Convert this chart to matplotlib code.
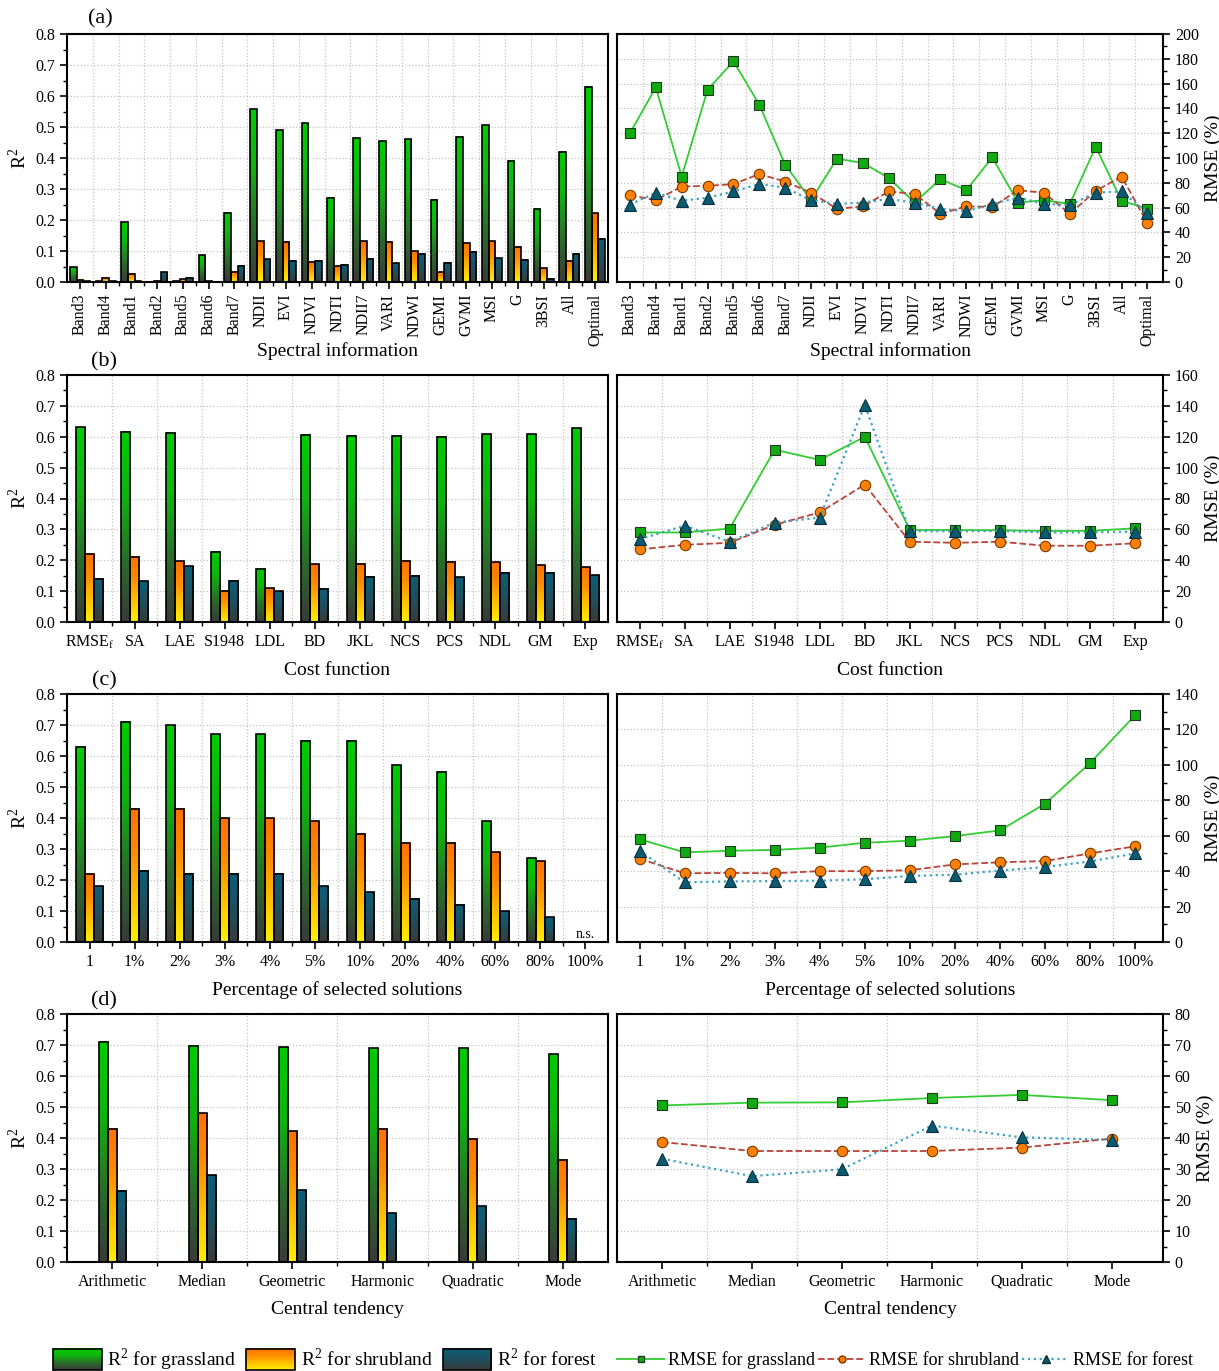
import numpy as np
import matplotlib
matplotlib.use('Agg')
import matplotlib.pyplot as plt
from matplotlib.colors import LinearSegmentedColormap
from matplotlib.ticker import MultipleLocator, FixedLocator, FormatStrFormatter
from matplotlib.patches import Rectangle
from matplotlib.legend_handler import HandlerBase
from matplotlib.image import BboxImage
from matplotlib.transforms import Bbox, TransformedBbox
from matplotlib.lines import Line2D

plt.rcParams['font.family'] = ['Liberation Serif', 'DejaVu Serif']
plt.rcParams['mathtext.fontset'] = 'stix'

# ---- (a) spectral information
cats_a = ['Band3', 'Band4', 'Band1', 'Band2', 'Band5', 'Band6', 'Band7', 'NDII', 'EVI', 'NDVI',
          'NDTI', 'NDII7', 'VARI', 'NDWI', 'GEMI', 'GVMI', 'MSI', 'G', '3BSI', 'All', 'Optimal']
r2_grass_a = [0.048, 0.003, 0.193, 0.001, 0.003, 0.086, 0.223, 0.557, 0.490, 0.512, 0.272,
              0.463, 0.454, 0.461, 0.266, 0.468, 0.506, 0.391, 0.237, 0.420, 0.630]
r2_shrub_a = [0.007, 0.013, 0.027, 0.004, 0.009, 0.002, 0.033, 0.132, 0.130, 0.066, 0.051,
              0.132, 0.130, 0.100, 0.032, 0.127, 0.132, 0.114, 0.044, 0.069, 0.222]
r2_forest_a = [0.003, 0.002, 0.002, 0.032, 0.013, 0.001, 0.052, 0.073, 0.068, 0.068, 0.055,
               0.075, 0.061, 0.091, 0.062, 0.098, 0.076, 0.071, 0.010, 0.091, 0.140]
rmse_grass_a = [120, 157, 85, 155, 178, 143, 94.5, 66, 99.5, 96, 84, 64, 83, 74, 100.5, 64, 66, 63, 109, 65.5, 59]
rmse_shrub_a = [70, 66, 77, 77.5, 79, 87, 81, 72, 59, 61, 73, 71, 55, 61, 60.5, 74, 72, 55, 73.5, 85, 47.5]
rmse_forest_a = [62.5, 72, 65.5, 68, 73, 79, 76, 66, 63, 64, 67, 64, 59, 57, 63, 68, 63, 62, 72, 73, 55.5]

# ---- (b) cost function
cats_b = ['RMSE$_\\mathregular{f}$', 'SA', 'LAE', 'S1948', 'LDL', 'BD', 'JKL', 'NCS', 'PCS', 'NDL', 'GM', 'Exp']
r2_grass_b = [0.630, 0.616, 0.613, 0.227, 0.172, 0.607, 0.603, 0.603, 0.600, 0.608, 0.608, 0.627]
r2_shrub_b = [0.221, 0.211, 0.197, 0.102, 0.110, 0.187, 0.189, 0.199, 0.195, 0.193, 0.183, 0.177]
r2_forest_b = [0.140, 0.132, 0.180, 0.134, 0.100, 0.107, 0.147, 0.150, 0.145, 0.159, 0.159, 0.151]
rmse_grass_b = [58, 58, 60.5, 111.6, 105, 120, 59.6, 59.6, 59.4, 59, 59, 60.7]
rmse_shrub_b = [47, 50, 51.3, 63, 71, 89, 52, 51.3, 52, 49.4, 49.4, 51]
rmse_forest_b = [53.6, 62.4, 52, 64.4, 67.6, 140.6, 58.8, 58.8, 59, 58, 58, 58.6]

# ---- (c) percentage of selected solutions
cats_c = ['1', '1%', '2%', '3%', '4%', '5%', '10%', '20%', '40%', '60%', '80%', '100%']
r2_grass_c = [0.63, 0.71, 0.70, 0.67, 0.67, 0.65, 0.65, 0.57, 0.55, 0.39, 0.27, np.nan]
r2_shrub_c = [0.22, 0.43, 0.43, 0.40, 0.40, 0.39, 0.35, 0.32, 0.32, 0.29, 0.26, np.nan]
r2_forest_c = [0.18, 0.23, 0.22, 0.22, 0.22, 0.18, 0.16, 0.14, 0.12, 0.10, 0.08, np.nan]
rmse_grass_c = [58, 50.6, 51.5, 52, 53.3, 56, 57.2, 59.8, 63, 78, 101, 128]
rmse_shrub_c = [47, 38.8, 39, 38.8, 40, 40, 40.5, 43.8, 45, 45.7, 50, 54]
rmse_forest_c = [51.5, 33.7, 34.2, 34.4, 34.6, 35.4, 37.3, 38, 40.3, 42.3, 45.5, 50]

# ---- (d) central tendency
cats_d = ['Arithmetic', 'Median', 'Geometric', 'Harmonic', 'Quadratic', 'Mode']
r2_grass_d = [0.71, 0.697, 0.692, 0.69, 0.69, 0.67]
r2_shrub_d = [0.43, 0.48, 0.422, 0.43, 0.397, 0.33]
r2_forest_d = [0.23, 0.28, 0.232, 0.157, 0.18, 0.14]
rmse_grass_d = [50.5, 51.4, 51.5, 52.9, 53.9, 52.2]
rmse_shrub_d = [38.7, 35.8, 35.8, 35.8, 36.9, 39.8]
rmse_forest_d = [33.3, 27.7, 29.9, 44, 40.2, 39.4]

cm_grass = LinearSegmentedColormap.from_list('g', ['#3a3a3a', '#2a6e2a', '#0fb40f', '#00cc00'])
cm_shrub = LinearSegmentedColormap.from_list('s', ['#fff000', '#ffc000', '#ff8c00', '#ff7000'])
cm_forest = LinearSegmentedColormap.from_list('f', ['#3a3a3a', '#1e4f5e', '#0a5f78'])
grad = np.linspace(0, 1, 256).reshape(-1, 1)

GRID = dict(ls=':', color='#c4c4c4', lw=0.9)


def grad_bars(ax, x, vals, cmap, width):
    bars = ax.bar(x, vals, width, facecolor='none', edgecolor='black', linewidth=1.2, zorder=3)
    for b in bars:
        h = b.get_height()
        if not np.isfinite(h) or h <= 0:
            continue
        x0, w = b.get_x(), b.get_width()
        ax.imshow(grad, extent=[x0, x0 + w, 0, h], origin='lower', aspect='auto',
                  cmap=cmap, interpolation='bilinear', zorder=2)
    return bars


def bar_panel(ax, cats, g, s, f, width, rot, xlabel, pad):
    x = np.arange(len(cats))
    grad_bars(ax, x - width, g, cm_grass, width)
    grad_bars(ax, x, s, cm_shrub, width)
    grad_bars(ax, x + width, f, cm_forest, width)
    ax.set_xlim(-0.5, len(cats) - 0.5)
    ax.set_ylim(0, 0.8)
    ax.yaxis.set_major_locator(MultipleLocator(0.1))
    ax.yaxis.set_minor_locator(MultipleLocator(0.05))
    ax.yaxis.set_major_formatter(FormatStrFormatter('%.1f'))
    ax.set_xticks(x)
    ax.set_xticklabels(cats, rotation=rot)
    ax.xaxis.set_minor_locator(FixedLocator(x[:-1] + 0.5))
    ax.set_axisbelow(True)
    ax.grid(axis='y', which='major', **GRID)
    ax.grid(axis='x', which='minor', **GRID)
    ax.tick_params(direction='out', width=1.2, length=5, labelsize=11.5)
    ax.tick_params(which='minor', width=1, length=3)
    ax.set_ylabel('R$^\\mathregular{2}$', fontsize=14)
    ax.set_xlabel(xlabel, fontsize=14, labelpad=pad)
    for sp in ax.spines.values():
        sp.set_linewidth(1.5)


def line_panel(ax, cats, g, s, f, ymax, major, rot, xlabel, pad, xr):
    x = np.arange(len(cats))
    ax.plot(x, g, color='#33cc33', ls='-', lw=1.3, marker='s', ms=7,
            mfc='#11aa11', mec='#1e3a1e', mew=0.8, zorder=3)
    ax.plot(x, s, color='#b8453a', ls='--', lw=1.3, marker='o', ms=7.5,
            mfc='#ff8000', mec='#7a3a00', mew=0.8, zorder=3)
    ax.plot(x, f, color='#3ba3c4', ls=':', lw=1.6, marker='^', ms=8,
            mfc='#0a5a70', mec='#0a3040', mew=0.8, zorder=3)
    ax.set_xlim(-0.5, len(cats) - 1 + xr)
    ax.set_ylim(0, ymax)
    ax.yaxis.tick_right()
    ax.yaxis.set_label_position('right')
    ax.yaxis.set_major_locator(MultipleLocator(major))
    ax.yaxis.set_minor_locator(MultipleLocator(major / 2))
    ax.set_xticks(x)
    ax.set_xticklabels(cats, rotation=rot)
    ax.xaxis.set_minor_locator(FixedLocator(x[:-1] + 0.5))
    ax.set_axisbelow(True)
    ax.grid(axis='y', which='major', **GRID)
    ax.grid(axis='x', which='minor', **GRID)
    ax.tick_params(direction='out', width=1.2, length=5, labelsize=11.5)
    ax.tick_params(which='minor', width=1, length=3)
    ax.set_ylabel('RMSE (%)', fontsize=14)
    ax.set_xlabel(xlabel, fontsize=14, labelpad=pad)
    for sp in ax.spines.values():
        sp.set_linewidth(1.5)


fig = plt.figure(figsize=(12.19, 13.71), dpi=100)
W, H = 1219.0, 1371.0


def add_ax(x0, x1, y0, y1):
    return fig.add_axes([x0 / W, 1 - y1 / H, (x1 - x0) / W, (y1 - y0) / H])


rows = [(34, 282), (375, 622), (694, 942), (1014, 1262)]

axl = add_ax(67, 608, *rows[0])
axr = add_ax(617, 1163, *rows[0])
bar_panel(axl, cats_a, r2_grass_a, r2_shrub_a, r2_forest_a, 0.26, 90, 'Spectral information', -3)
line_panel(axr, cats_a, rmse_grass_a, rmse_shrub_a, rmse_forest_a, 200, 20, 90,
           'Spectral information', -3, 0.6)

axl = add_ax(67, 608, *rows[1])
axr = add_ax(617, 1163, *rows[1])
bar_panel(axl, cats_b, r2_grass_b, r2_shrub_b, r2_forest_b, 0.2, 0, 'Cost function', 8)
line_panel(axr, cats_b, rmse_grass_b, rmse_shrub_b, rmse_forest_b, 160, 20, 0,
           'Cost function', 8, 0.62)

axl = add_ax(67, 608, *rows[2])
axr = add_ax(617, 1163, *rows[2])
bar_panel(axl, cats_c, r2_grass_c, r2_shrub_c, r2_forest_c, 0.2, 0,
          'Percentage of selected solutions', 8)
axl.text(11, 0.003, 'n.s.', ha='center', va='bottom', fontsize=10)
line_panel(axr, cats_c, rmse_grass_c, rmse_shrub_c, rmse_forest_c, 140, 20, 0,
           'Percentage of selected solutions', 8, 0.62)

axl = add_ax(67, 608, *rows[3])
axr = add_ax(617, 1163, *rows[3])
bar_panel(axl, cats_d, r2_grass_d, r2_shrub_d, r2_forest_d, 0.1, 0, 'Central tendency', 8)
line_panel(axr, cats_d, rmse_grass_d, rmse_shrub_d, rmse_forest_d, 80, 10, 0,
           'Central tendency', 8, 0.57)

for lab, (xp, yp) in zip(['(a)', '(b)', '(c)', '(d)'], [(100, 19), (104, 362), (104, 681), (104, 1001)]):
    fig.text(xp / W, 1 - yp / H, lab, ha='center', va='center', fontsize=16)


class GradHandler(HandlerBase):
    def __init__(self, cmap):
        super().__init__()
        self.cmap = cmap

    def create_artists(self, legend, orig_handle, xdescent, ydescent, width, height, fontsize, trans):
        bb = TransformedBbox(Bbox.from_bounds(-xdescent, -ydescent, width, height), trans)
        img = BboxImage(bb, cmap=self.cmap, interpolation='bilinear', origin='lower')
        img.set_data(grad)
        rect = Rectangle((-xdescent, -ydescent), width, height, facecolor='none',
                         edgecolor='black', lw=1.2, transform=trans)
        return [img, rect]


hg, hs, hf = Rectangle((0, 0), 1, 1), Rectangle((0, 0), 1, 1), Rectangle((0, 0), 1, 1)
leg1 = fig.legend([hg, hs, hf],
                  ['R$^\\mathregular{2}$ for grassland', 'R$^\\mathregular{2}$ for shrubland',
                   'R$^\\mathregular{2}$ for forest'],
                  handler_map={hg: GradHandler(cm_grass), hs: GradHandler(cm_shrub), hf: GradHandler(cm_forest)},
                  loc='center', bbox_to_anchor=(325 / W, 1 - 1360 / H), ncol=3, frameon=False,
                  fontsize=14, handlelength=2.5, handleheight=1.3, handletextpad=0.3, columnspacing=0.5)

lines = [Line2D([], [], color='#33cc33', ls='-', lw=1.3, marker='s', ms=5, mfc='#11aa11', mec='#1e3a1e'),
         Line2D([], [], color='#b8453a', ls='--', lw=1.3, marker='o', ms=5, mfc='#ff8000', mec='#7a3a00'),
         Line2D([], [], color='#3ba3c4', ls=':', lw=1.6, marker='^', ms=5.5, mfc='#0a5a70', mec='#0a3040')]
fig.legend(lines, ['RMSE for grassland', 'RMSE for shrubland', 'RMSE for forest'],
           loc='center', bbox_to_anchor=(905 / W, 1 - 1360 / H), ncol=3, frameon=False,
           fontsize=13, handlelength=2.6, handletextpad=0.2, columnspacing=0.2)

fig.savefig('out.png', dpi=100)
